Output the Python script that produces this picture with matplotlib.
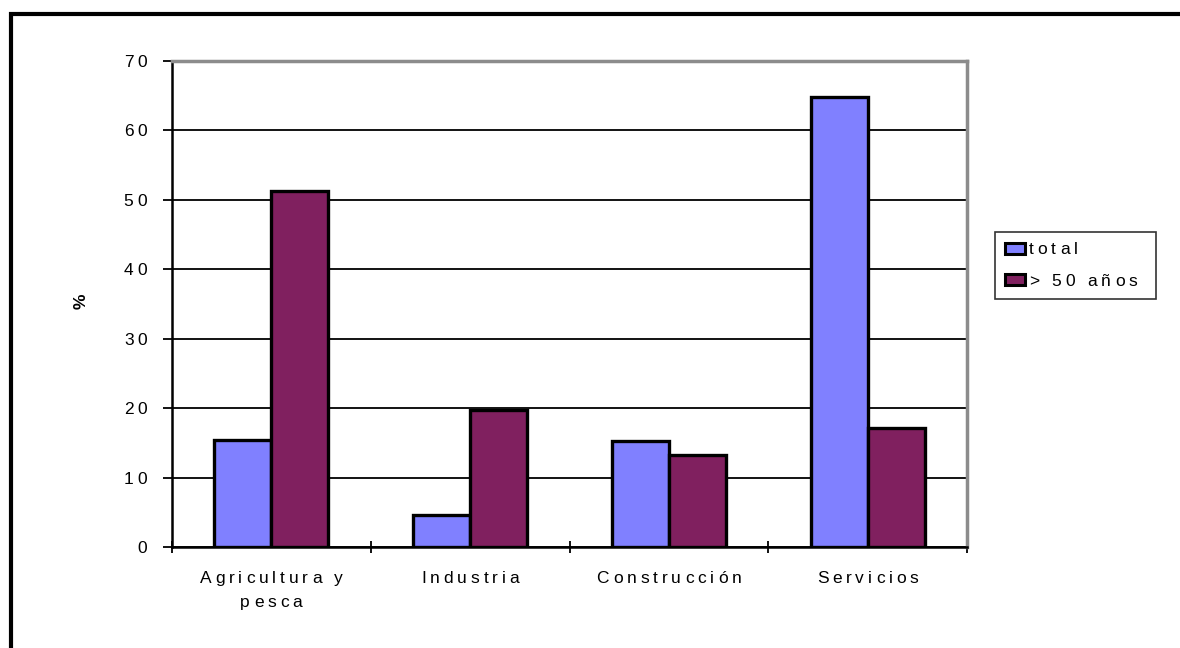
import matplotlib
matplotlib.use("Agg")
import matplotlib.pyplot as plt
import matplotlib.text as mtext
from matplotlib.transforms import Bbox, IdentityTransform
import numpy as np
from matplotlib.patches import Rectangle, Patch

categories = ["Agricultura y\npesca", "Industria", "Construcción", "Servicios"]
total = [15.4, 4.6, 15.2, 64.8]
mayores50 = [51.3, 19.8, 13.2, 17.2]
series_names = ["total", "> 50 años"]
yticks = [0, 10, 20, 30, 40, 50, 60, 70]

plt.rcParams['font.family'] = ['Liberation Sans', 'DejaVu Sans']
FS = 12.5


class SpacedText(mtext.Text):
    """Text drawn with extra letter spacing (tracking); the string itself is unchanged."""
    _tracking_pt = 2.8
    _line_step = 2.05
    _extra_right_px = 0.0

    def _track_px(self):
        return self._tracking_pt * self.get_figure(root=True).dpi / 72.0

    def _adv(self, renderer, ch):
        fp = self.get_fontproperties()
        w1 = renderer.get_text_width_height_descent("H" + ch + "H", fp, ismath=False)[0]
        w0 = renderer.get_text_width_height_descent("HH", fp, ismath=False)[0]
        return w1 - w0

    def _line_width(self, renderer, line):
        if not line:
            return 0.0
        return sum(self._adv(renderer, c) for c in line) + self._track_px() * (len(line) - 1)

    def _get_layout(self, renderer):
        bbox, info, descent = super()._get_layout(renderer)
        lines = self.get_text().split('\n')
        try:
            w = max(self._line_width(renderer, l) for l in lines)
        except Exception:
            return bbox, info, descent
        extra = w - bbox.width
        x0, y0, x1, y1 = bbox.x0, bbox.y0, bbox.x1, bbox.y1
        if extra > 0:
            ha = self.get_horizontalalignment()
            if ha == 'center':
                x0 -= extra / 2; x1 += extra / 2
            elif ha == 'right':
                x0 -= extra
            else:
                x1 += extra
        x1 += self._extra_right_px
        bbox = Bbox([[x0, y0], [x1, y1]])
        return bbox, info, descent

    def draw(self, renderer):
        if renderer is not None:
            self._renderer = renderer
        if not self.get_visible() or self.get_text() == '':
            return
        fp = self.get_fontproperties()
        tr = self._track_px()
        x, y = self.get_transform().transform(self.get_unitless_position())
        lines = self.get_text().split('\n')
        _, hlp, dlp = renderer.get_text_width_height_descent("lp", fp, ismath=False)
        asc = hlp - dlp
        step = self._line_step * asc
        n = len(lines)
        total_h = asc + (n - 1) * step + dlp
        va = self.get_verticalalignment()
        if va == 'top':
            by = y - asc
        elif va == 'bottom':
            by = y + total_h - asc
        elif va == 'center':
            by = y + total_h / 2 - asc
        elif va == 'center_baseline':
            _, h0, d0 = renderer.get_text_width_height_descent(lines[0], fp, ismath=False)
            by = y - (h0 - d0) / 2
        else:
            by = y
        ha = self.get_horizontalalignment()
        for i, line in enumerate(lines):
            wl = self._line_width(renderer, line)
            if ha == 'center':
                lx = x - wl / 2
            elif ha == 'right':
                lx = x - wl
            else:
                lx = x
            ly = by - i * step
            for ch in line:
                t = mtext.Text(lx, ly, ch, fontproperties=fp, color=self.get_color(),
                               alpha=self.get_alpha(), ha='left', va='baseline',
                               transform=IdentityTransform(), clip_on=False)
                t.set_figure(self.get_figure(root=True))
                t.draw(renderer)
                lx += self._adv(renderer, ch) + tr


fig = plt.figure(figsize=(11.8, 6.48), dpi=100)
ax = fig.add_axes([172/1180, 1-547/648, (967-172)/1180, (547-61)/648])

x = np.arange(len(categories))
w = 0.287
c1 = "#8080FF"
c2 = "#80205F"
ax.bar(x - w/2, total, w, color=c1, edgecolor="black", linewidth=2.4, zorder=3,
       label=series_names[0])
ax.bar(x + w/2, mayores50, w, color=c2, edgecolor="black", linewidth=2.4, zorder=3,
       label=series_names[1])

ax.set_xlim(-0.5, len(categories) - 0.5)
ax.set_ylim(0, 70)
ax.set_yticks(yticks)
ax.set_yticklabels([str(v) for v in yticks], fontsize=FS)
ax.yaxis.grid(True, color="black", linewidth=1.3, zorder=0)
ax.set_axisbelow(True)

ax.set_xticks(np.arange(-0.5, len(categories)), minor=False)
ax.set_xticklabels([])
ax.set_xticks(x, minor=True)
ax.set_xticklabels(categories, minor=True, fontsize=FS)
ax.tick_params(axis='x', which='major', direction='inout', length=9, width=1.3)
ax.tick_params(axis='x', which='minor', length=0, pad=17)
ax.tick_params(axis='y', direction='out', length=6.5, width=1.3, pad=11.5)

for lbl in ax.get_xticklabels(minor=True) + ax.get_yticklabels():
    lbl.__class__ = SpacedText

for s in ['left', 'bottom']:
    ax.spines[s].set_color('black')
    ax.spines[s].set_linewidth(1.8)
for s in ['top', 'right']:
    ax.spines[s].set_color('#8c8c8c')
    ax.spines[s].set_linewidth(2.5)

ax.set_ylabel("%", fontsize=FS, fontweight='bold')
ax.yaxis.set_label_coords((89-172)/795, 0.505)

handles = [Patch(facecolor=c1, edgecolor='black', linewidth=2.2),
           Patch(facecolor=c2, edgecolor='black', linewidth=2.2)]
leg = fig.legend(handles, series_names, loc='upper left',
                 bbox_to_anchor=(995/1180, 1-232/648), fontsize=FS,
                 frameon=True, fancybox=False, shadow=False,
                 handlelength=1.1, handleheight=0.57, handletextpad=0.25,
                 borderpad=0.6, labelspacing=0.95, borderaxespad=0)
leg.get_frame().set_edgecolor('black')
leg.get_frame().set_linewidth(1.2)
for t in leg.get_texts():
    t.__class__ = SpacedText
    t._extra_right_px = 8.0

fig.add_artist(Rectangle((11/1180, -0.5), 2.0, 0.5 + 1 - 14/648,
                         transform=fig.transFigure, fill=False,
                         edgecolor='black', linewidth=3, clip_on=False))

fig.savefig("out.png", dpi=100)
